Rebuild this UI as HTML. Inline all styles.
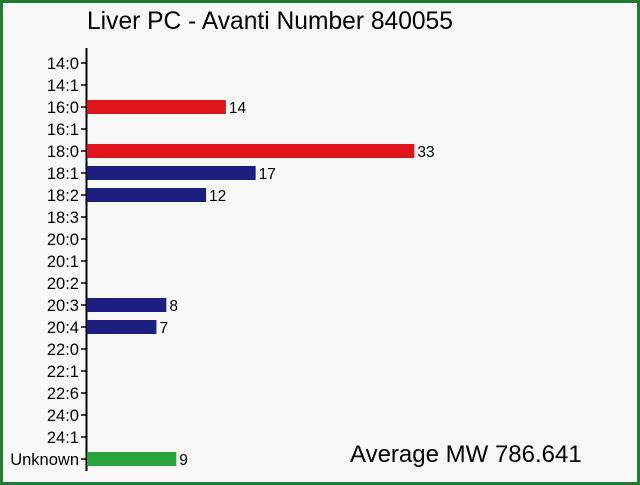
<!DOCTYPE html>
<html><head><meta charset="utf-8"><style>
body{margin:0;background:#fff}
#wrap{width:640px;height:485px;box-sizing:border-box;border:3px solid #1f7a32;background:#f8f8f8;position:relative}
svg{position:absolute;left:-3px;top:-3px}
text{font-family:"Liberation Sans",Arial,sans-serif}
</style></head><body>
<div id="wrap">
<svg id="chart" width="640" height="485">
<text x="87" y="29" font-size="24.6" fill="#000">Liver PC - Avanti Number 840055</text>
<text x="350" y="462" font-size="24" fill="#000">Average MW 786.641</text>
<line x1="86.5" y1="48" x2="86.5" y2="471" stroke="#000" stroke-width="2"/>
</svg>
</div>
<script>
const categories=["14:0","14:1","16:0","16:1","18:0","18:1","18:2","18:3","20:0","20:1","20:2","20:3","20:4","22:0","22:1","22:6","24:0","24:1","Unknown"];
const values=[0,0,14,0,33,17,12,0,0,0,0,8,7,0,0,0,0,0,9];
const colors=["","","#e0141b","","#e0141b","#1c1f80","#1c1f80","","","","","#1c1f80","#1c1f80","","","","","","#27a33a"];
const NS="http://www.w3.org/2000/svg";
const svg=document.getElementById('chart');
const x0=87, unit=9.92;
function xs(v){return x0+v*unit;}
function ys(i){return 63+i*22;}
categories.forEach((c,i)=>{
  const y=ys(i);
  const t=document.createElementNS(NS,'line');
  t.setAttribute('x1',81);t.setAttribute('x2',86);t.setAttribute('y1',y);t.setAttribute('y2',y);
  t.setAttribute('stroke','#000');t.setAttribute('stroke-width','1.5');
  
  
  svg.appendChild(t);
  const l=document.createElementNS(NS,'text');
  l.setAttribute('x',79);l.setAttribute('y',y+6);l.setAttribute('text-anchor','end');l.setAttribute('font-size','16.5');
  l.textContent=c;
  
  
  svg.appendChild(l);
  if(values[i]>0){
    const r=document.createElementNS(NS,'rect');
    r.setAttribute('x',x0);r.setAttribute('y',y-7);r.setAttribute('width',xs(values[i])-x0);r.setAttribute('height',14);
    r.setAttribute('fill',colors[i]);
    
    
    svg.appendChild(r);
    const v=document.createElementNS(NS,'text');
    v.setAttribute('x',xs(values[i])+3);v.setAttribute('y',y+6);v.setAttribute('font-size','15.5');
    v.textContent=values[i];
    
    
    svg.appendChild(v);
  }
});
</script>
</body></html>
